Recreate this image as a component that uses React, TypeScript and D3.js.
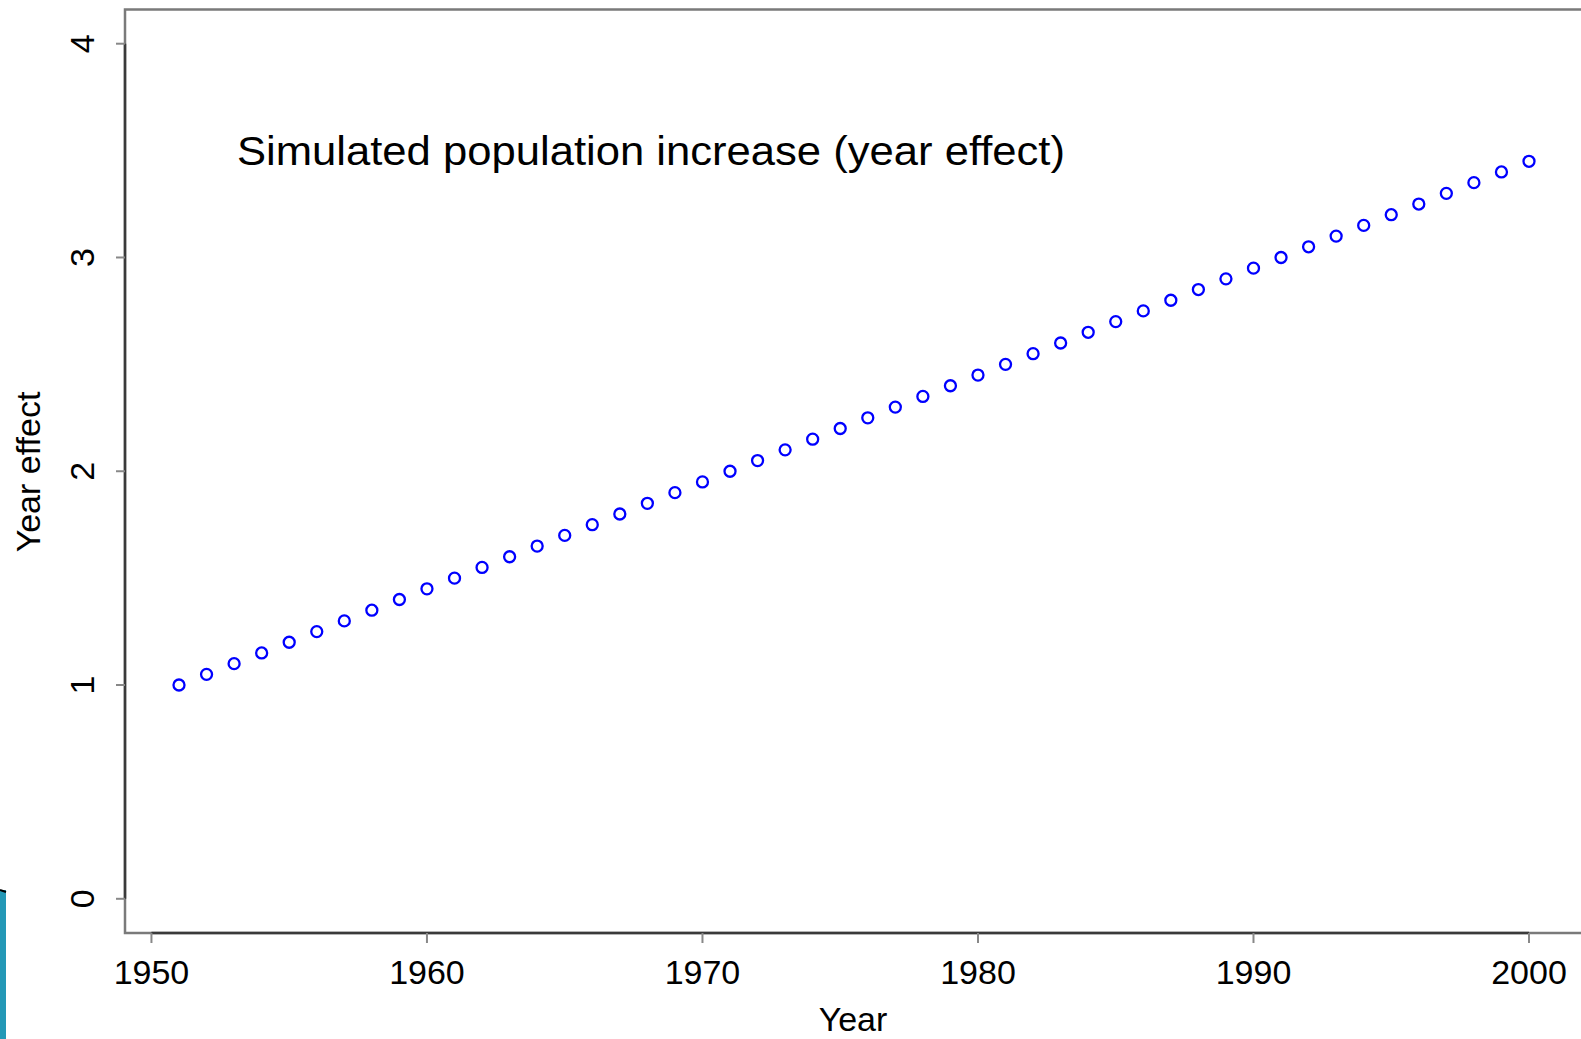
import React from "react";
import * as d3 from "d3";

const years: number[] = [
  1951, 1952, 1953, 1954, 1955, 1956, 1957, 1958, 1959, 1960,
  1961, 1962, 1963, 1964, 1965, 1966, 1967, 1968, 1969, 1970,
  1971, 1972, 1973, 1974, 1975, 1976, 1977, 1978, 1979, 1980,
  1981, 1982, 1983, 1984, 1985, 1986, 1987, 1988, 1989, 1990,
  1991, 1992, 1993, 1994, 1995, 1996, 1997, 1998, 1999, 2000,
];
const yearEffect: number[] = [
  1.0, 1.05, 1.1, 1.15, 1.2, 1.25, 1.3, 1.35, 1.4, 1.45,
  1.5, 1.55, 1.6, 1.65, 1.7, 1.75, 1.8, 1.85, 1.9, 1.95,
  2.0, 2.05, 2.1, 2.15, 2.2, 2.25, 2.3, 2.35, 2.4, 2.45,
  2.5, 2.55, 2.6, 2.65, 2.7, 2.75, 2.8, 2.85, 2.9, 2.95,
  3.0, 3.05, 3.1, 3.15, 3.2, 3.25, 3.3, 3.35, 3.4, 3.45,
];
const xTicks: number[] = [1950, 1960, 1970, 1980, 1990, 2000];
const yTicks: number[] = [0, 1, 2, 3, 4];
const title = "Simulated population increase (year effect)";
const xLabel = "Year";
const yLabel = "Year effect";

const W = 1581;
const H = 1039;
const FONT = "'Liberation Sans', Arial, Helvetica, sans-serif";

export default function App() {
  const x = d3.scaleLinear().domain([1949.04, 2001.96]).range([125, 1583]);
  const y = d3.scaleLinear().domain([-0.16, 4.16]).range([933, 9.5]);
  const [x0, x1] = x.range();
  const [yb, yt] = y.range();
  const axisColor = "#3a3a3a";
  const boxColor = "#7a7a7a";
  return (
    <svg
      width={W}
      height={H}
      style={{ position: "absolute", left: 0, top: 0, background: "#fff" }}
    >
      {/* teal decoration */}
      <rect x={0} y={890} width={6} height={H - 890} fill="#2398b6" />
      <line x1={0} y1={890} x2={6} y2={892} stroke="#000" strokeWidth={2} />

      {/* box */}
      <rect
        x={x0}
        y={yt}
        width={x1 - x0}
        height={yb - yt}
        fill="none"
        stroke={boxColor}
        strokeWidth={2.5}
      />
      {/* axis lines */}
      <line x1={x(xTicks[0])} x2={x(xTicks[xTicks.length - 1])} y1={yb} y2={yb} stroke={axisColor} strokeWidth={2.5} />
      <line x1={x0} x2={x0} y1={y(yTicks[0])} y2={y(yTicks[yTicks.length - 1])} stroke={axisColor} strokeWidth={2.5} />

      {/* x ticks */}
      {xTicks.map((t) => (
        <g key={"xt" + t}>
          <line x1={x(t)} x2={x(t)} y1={yb} y2={yb + 10} stroke="#888" strokeWidth={2} />
          <text x={x(t)} y={984} textAnchor="middle" fontFamily={FONT} fontSize={34} fill="#000">
            {t}
          </text>
        </g>
      ))}
      {/* y ticks */}
      {yTicks.map((t) => (
        <g key={"yt" + t}>
          <line x1={x0 - 9} x2={x0} y1={y(t)} y2={y(t)} stroke="#888" strokeWidth={2} />
          <text
            transform={`translate(94,${y(t)}) rotate(-90)`}
            textAnchor="middle"
            fontFamily={FONT}
            fontSize={34}
            fill="#000"
          >
            {t}
          </text>
        </g>
      ))}

      {/* points */}
      {years.map((yr, i) => (
        <circle
          key={yr}
          cx={x(yr)}
          cy={y(yearEffect[i])}
          r={5.5}
          fill="none"
          stroke="#0000ff"
          strokeWidth={2.3}
        />
      ))}

      {/* title */}
      <text x={237} y={165} fontFamily={FONT} fontSize={41} fill="#000" textLength={828} lengthAdjust="spacingAndGlyphs">
        {title}
      </text>

      {/* axis labels */}
      <text x={853} y={1031} textAnchor="middle" fontFamily={FONT} fontSize={34} fill="#000">
        {xLabel}
      </text>
      <text
        transform={`translate(40,472) rotate(-90)`}
        textAnchor="middle"
        fontFamily={FONT}
        fontSize={34}
        fill="#000"
      >
        {yLabel}
      </text>
    </svg>
  );
}
